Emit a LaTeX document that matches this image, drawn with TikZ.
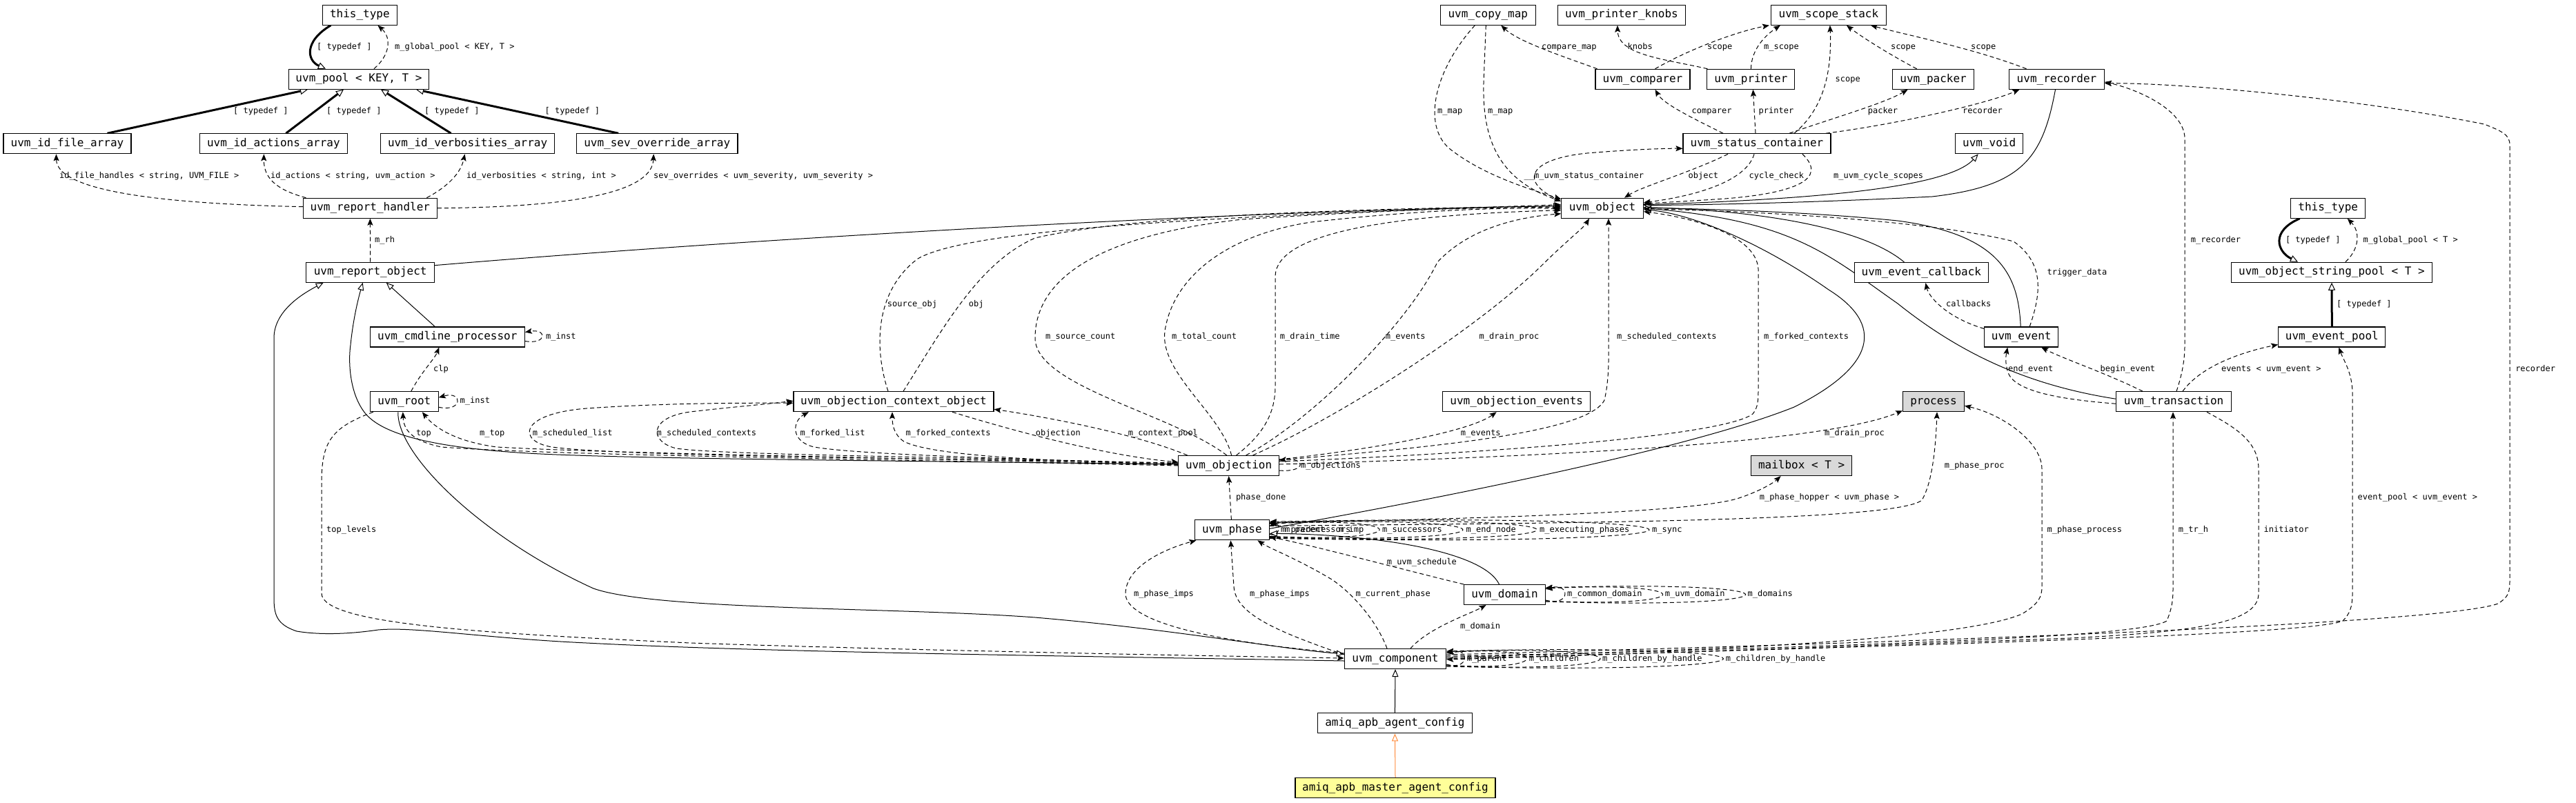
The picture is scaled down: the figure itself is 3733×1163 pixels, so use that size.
\documentclass[tikz,border=0pt]{standalone}
\usepackage{fontspec}
\newfontfamily\dmono{DejaVu Sans Mono}
\usetikzlibrary{arrows.meta,backgrounds}
\definecolor{graybox}{HTML}{D9D9D9}
\definecolor{yellowbox}{HTML}{FFFF99}
\definecolor{orangeedge}{HTML}{FF8C3C}
\begin{document}
\begin{tikzpicture}[x=1pt,y=-1pt,
  box/.style={draw=black, line width=1.1pt, fill=white, inner sep=0pt, minimum height=29pt,
    font=\dmono\fontsize{16}{18}\selectfont, text height=12pt, text depth=3.5pt},
  lbl/.style={font=\dmono\fontsize{12}{14}\selectfont, inner sep=0pt, anchor=west, text height=9pt, text depth=2.5pt},
  use/.style={line width=1pt, dash pattern=on 6pt off 4pt, -{Stealth[length=10pt,width=8pt,inset=2pt]}},
  inh/.style={line width=1pt, -{Triangle[length=11pt,width=9pt,fill=white]}},
  tdef/.style={line width=3pt, -{Triangle[length=11pt,width=10pt,fill=white,line width=1pt]}},
  oinh/.style={line width=1pt, draw=orangeedge, -{Triangle[length=11pt,width=9pt,fill=white,color=orangeedge]}}
]
\begin{scope}[on background layer]
\fill[white] (0,0) rectangle (3733,1163);
\end{scope}
\useasboundingbox (0,0) rectangle (3733,1163);

% ---------------- nodes ----------------
\node[box, minimum width=108pt] (ttL) at (521.4,21.7) {this\_type};
\node[box, minimum width=203.4pt] (pool) at (520,114.7) {uvm\_pool < KEY, T >};
\node[box, minimum width=185pt] (fileA) at (97.5,208.3) {uvm\_id\_file\_array};
\node[box, minimum width=213.7pt] (actA) at (396.4,208.3) {uvm\_id\_actions\_array};
\node[box, minimum width=252pt] (verbA) at (677.6,208.3) {uvm\_id\_verbosities\_array};
\node[box, minimum width=233.5pt] (sevA) at (952.2,208.3) {uvm\_sev\_override\_array};
\node[box, minimum width=194pt] (rh) at (536.4,301.7) {uvm\_report\_handler};
\node[box, minimum width=185.6pt] (ro) at (536.7,394.7) {uvm\_report\_object};
\node[box, minimum width=224pt] (clp) at (648.3,488.5) {uvm\_cmdline\_processor};
\node[box, minimum width=98.8pt] (root) at (585.8,582.2) {uvm\_root};
\node[box, minimum width=290pt] (ctx) at (1295,582.2) {uvm\_objection\_context\_object};
\node[box, minimum width=145.4pt] (objn) at (1780.6,675) {uvm\_objection};
\node[box, minimum width=107.8pt] (phase) at (1785.4,768.3) {uvm\_phase};
\node[box, minimum width=137.8pt] (copy) at (2156.3,21.7) {uvm\_copy\_map};
\node[box, minimum width=184.3pt] (knobs) at (2349.9,21.7) {uvm\_printer\_knobs};
\node[box, minimum width=167pt] (scope) at (2649.9,21.7) {uvm\_scope\_stack};
\node[box, minimum width=137pt] (cmp) at (2380.5,114.8) {uvm\_comparer};
\node[box, minimum width=127pt] (prn) at (2537.4,114.8) {uvm\_printer};
\node[box, minimum width=118.6pt] (pck) at (2801.6,114.8) {uvm\_packer};
\node[box, minimum width=137.6pt] (rec) at (2980.5,114.8) {uvm\_recorder};
\node[box, minimum width=214pt] (stat) at (2546,208.3) {uvm\_status\_container};
\node[box, minimum width=98.3pt] (void) at (2882.7,208.3) {uvm\_void};
\node[box, minimum width=118.6pt] (obj) at (2322,301.7) {uvm\_object};
\node[box, minimum width=194pt] (ecb) at (2784.4,395) {uvm\_event\_callback};
\node[box, minimum width=107.8pt] (ttR) at (3373.7,301.7) {this\_type};
\node[box, minimum width=290.6pt] (osp) at (3379,394.7) {uvm\_object\_string\_pool < T >};
\node[box, minimum width=107pt] (evt) at (2929.2,488.5) {uvm\_event};
\node[box, minimum width=155.2pt] (epool) at (3379.3,488.5) {uvm\_event\_pool};
\node[box, minimum width=214.2pt] (oevt) at (2197.7,582.2) {uvm\_objection\_events};
\node[box, minimum width=88.6pt, fill=graybox] (proc) at (2802,582.2) {process};
\node[box, minimum width=167.4pt] (trans) at (3150,582.2) {uvm\_transaction};
\node[box, minimum width=146pt, fill=graybox] (mbox) at (2610.6,675) {mailbox < T >};
\node[box, minimum width=117.4pt] (dom) at (2180.5,862) {uvm\_domain};
\node[box, minimum width=147.4pt] (comp) at (2022,955) {uvm\_component};
\node[box, minimum width=224pt] (acfg) at (2021.4,1048.3) {amiq\_apb\_agent\_config};
\node[box, minimum width=290pt, fill=yellowbox] (mcfg) at (2022,1142.2) {amiq\_apb\_master\_agent\_config};

% ---------------- edges ----------------
\begin{scope}[on background layer]
% top-left cluster
\draw[tdef] ([xshift=-42pt]ttL.south) .. controls (440,60) and (445,88) .. ([xshift=-48pt]pool.north);
\draw[use] ([xshift=22pt]pool.north) .. controls (565,80) and (568,55) .. ([xshift=26pt]ttL.south);
\draw[tdef] ([xshift=58pt]fileA.north) -- ([xshift=-74pt]pool.south);
\draw[tdef] ([xshift=18pt]actA.north) -- ([xshift=-22pt]pool.south);
\draw[tdef] ([xshift=-24pt]verbA.north) -- ([xshift=32pt]pool.south);
\draw[tdef] ([xshift=-56pt]sevA.north) -- ([xshift=83pt]pool.south);
\draw[use] ([yshift=2pt]rh.west) .. controls (220,295) and (82,275) .. ([xshift=-16pt]fileA.south);
\draw[use] ([xshift=-93pt]rh.north) .. controls (400,275) and (382,258) .. ([xshift=-14pt]actA.south);
\draw[use] ([xshift=82pt]rh.north) .. controls (650,270) and (668,250) .. ([xshift=-4pt]verbA.south);
\draw[use] (rh.east) .. controls (850,300) and (945,275) .. ([xshift=-5pt]sevA.south);
\draw[use] (ro.north) -- (rh.south);
\draw[inh] ([yshift=-5pt]ro.north east) .. controls (1100,345) and (1800,305) .. ([yshift=3pt]obj.west);

% root cluster
\draw[inh] ([xshift=-18pt]clp.north) -- ([xshift=23pt]ro.south);
\draw[use] ([yshift=-6pt]clp.east) .. controls (793,500) and (793,476) .. ([yshift=7pt]clp.east);
\draw[use] ([xshift=10pt]root.north) .. controls (610,540) and (630,520) .. ([xshift=-12pt]clp.south);
\draw[use] ([yshift=-8pt]root.east) .. controls (671,598) and (671,566) .. ([yshift=6pt]root.east);
\draw[inh] ([xshift=-9pt]root.south) .. controls (575,660) and (700,780) .. (860,853)
   .. controls (950,885) and (1300,880) .. (1500,895) .. controls (1700,912) and (1850,940) .. ([yshift=7pt]comp.west);
\draw[use] ([xshift=-45pt]root.south) .. controls (480,620) and (466,640) .. (466,700) -- (466,860)
   .. controls (466,905) and (700,918) .. (1000,932) .. controls (1300,942) and (1700,950) .. ([yshift=1pt]comp.west);
\draw[inh] ([yshift=-3pt]comp.west) .. controls (1500,950) and (1100,945) .. (850,932)
   .. controls (700,925) and (600,908) .. (548,913) .. controls (500,920) and (460,920) .. (430,915)
   .. controls (400,905) and (397,890) .. (397,866) -- (397,490) .. controls (397,450) and (440,425) .. ([xshift=-68pt]ro.south);
\draw[inh] ([yshift=2pt]objn.west) .. controls (1300,668) and (900,665) .. (765,657)
   .. controls (650,650) and (560,635) .. (530,600) .. controls (505,570) and (505,520) .. (508,500)
   .. controls (512,460) and (520,430) .. ([xshift=-11pt]ro.south);
\draw[use] (objn.west) .. controls (1300,666) and (800,660) .. (640,648) .. controls (600,640) and (585,625) .. ([xshift=-2pt]root.south);
\draw[use] ([yshift=1pt]objn.west) .. controls (1300,663) and (900,658) .. (720,648) .. controls (660,640) and (630,620) .. ([xshift=26pt]root.south);
\draw[use] ([yshift=4pt]objn.west) .. controls (1400,665) and (900,662) .. (800,648)
   .. controls (750,640) and (750,600) .. (850,592) .. controls (950,585) and (1050,584) .. ([yshift=-2pt]ctx.west);
\draw[use] ([yshift=3pt]objn.west) .. controls (1400,662) and (1050,660) .. (980,650)
   .. controls (940,640) and (940,605) .. (1000,597) .. controls (1060,590) and (1100,587) .. ([yshift=1pt]ctx.west);
\draw[use] ([yshift=1pt]objn.west) .. controls (1500,665) and (1250,660) .. (1180,648)
   .. controls (1145,640) and (1148,610) .. ([xshift=-123pt]ctx.south);
\draw[use] ([yshift=2pt]objn.west) .. controls (1500,668) and (1350,660) .. (1310,640)
   .. controls (1295,630) and (1293,615) .. ([xshift=-2pt]ctx.south);
\draw[use] ([xshift=-60pt]objn.north) .. controls (1650,630) and (1520,605) .. ([yshift=4pt]ctx.south east);
\draw[use] ([xshift=85pt]ctx.south) .. controls (1470,625) and (1600,660) .. ([yshift=5pt]objn.west);

% context/objection -> uvm_object
\draw[use] ([xshift=-8pt]ctx.north) .. controls (1265,500) and (1270,420) .. (1330,375)
   .. controls (1400,335) and (1700,315) .. ([yshift=5pt]obj.west);
\draw[use] ([xshift=14pt]ctx.north) .. controls (1370,470) and (1420,380) .. (1500,345)
   .. controls (1650,310) and (2000,302) .. ([yshift=3pt]obj.west);
\draw[use] ([xshift=-3pt]objn.north) .. controls (1700,600) and (1500,560) .. (1500,490)
   .. controls (1500,400) and (1600,340) .. (1800,318) .. controls (2000,305) and (2150,300) .. ([yshift=1pt]obj.west);
\draw[use] ([xshift=4pt]objn.north) .. controls (1770,600) and (1680,540) .. (1688,480)
   .. controls (1700,400) and (1780,340) .. (1900,322) .. controls (2050,305) and (2180,300) .. ([yshift=-1pt]obj.west);
\draw[use] ([xshift=11pt]objn.north) .. controls (1830,630) and (1848,600) .. (1848,560) -- (1848,400)
   .. controls (1850,340) and (2000,312) .. ([yshift=-3pt]obj.west);
\draw[use] ([xshift=25pt]objn.north) .. controls (1900,610) and (2040,470) .. (2083,380)
   .. controls (2130,330) and (2200,315) .. ([yshift=-8pt]obj.west);
\draw[use] ([xshift=35pt]objn.north) .. controls (1950,600) and (2150,470) .. (2239,380)
   .. controls (2275,345) and (2295,330) .. ([xshift=-19pt]obj.south);
\draw[use] ([yshift=8pt]objn.east) .. controls (2050,650) and (2300,630) .. (2325,580)
   .. controls (2332,550) and (2331,520) .. (2331,500) -- ([xshift=9pt]obj.south);
\draw[use] ([yshift=6pt]objn.east) .. controls (2200,655) and (2500,630) .. (2540,600)
   .. controls (2548,590) and (2548,580) .. (2548,560) -- (2548,390) .. controls (2545,340) and (2450,315) .. ([yshift=-5pt]obj.east);
\draw[use] ([yshift=9pt]objn.east) .. controls (2000,650) and (2130,625) .. ([xshift=-29pt]oevt.south);
\draw[use] ([yshift=2pt]objn.east) .. controls (2300,660) and (2650,640) .. ([yshift=2pt]proc.south west);
\draw[use] ([yshift=-7pt]objn.east) .. controls (1893,685) and (1893,663) .. ([yshift=8pt]objn.east);
\draw[use] ([xshift=-1pt]phase.north) -- (objn.south);

% phase cluster
\draw[inh] ([yshift=2pt]phase.east) .. controls (2100,720) and (2450,650) .. (2600,590)
   .. controls (2720,530) and (2730,470) .. (2650,420) .. controls (2550,350) and (2450,310) .. ([yshift=-2pt]obj.east);
\draw[inh] ([xshift=-8pt]dom.north) .. controls (2150,800) and (2000,775) .. ([yshift=-5pt]phase.east);
\draw[use] (dom.north west) .. controls (2050,830) and (1900,790) .. ([yshift=-10pt]phase.east);
\draw[use] ([yshift=8pt]comp.west) .. controls (1750,930) and (1630,900) .. (1631,860)
   .. controls (1632,820) and (1690,795) .. ([xshift=-52pt]phase.south);
\draw[use] ([yshift=6pt]comp.west) .. controls (1850,915) and (1790,890) .. (1788,850) -- ([xshift=-2pt]phase.south);
\draw[use] ([xshift=-12pt]comp.north) .. controls (1995,900) and (1960,860) .. (1930,840)
   .. controls (1880,810) and (1840,795) .. ([xshift=37pt]phase.south);
\draw[use] ([xshift=22pt]comp.north) .. controls (2070,910) and (2130,890) .. ([xshift=-27pt]dom.south);
% phase self loops
\draw[use] ([yshift=-6pt]phase.east) .. controls (1856,780) and (1856,756) .. ([yshift=6pt]phase.east);
\draw[use] ([yshift=-9pt]phase.east) .. controls (2051,788) and (2051,748) .. ([yshift=9pt]phase.east);
\draw[use] ([yshift=-10pt]phase.east) .. controls (2212,790) and (2212,746) .. ([yshift=10pt]phase.east);
\draw[use] ([yshift=-11pt]phase.east) .. controls (2355,792) and (2355,744) .. ([yshift=11pt]phase.east);
\draw[use] ([yshift=-12pt]phase.east) .. controls (2572,794) and (2572,742) .. ([yshift=12pt]phase.east);
\draw[use] ([yshift=10pt]phase.east) .. controls (2100,752) and (2450,745) .. (2520,722)
   .. controls (2550,712) and (2570,700) .. ([xshift=-30pt]mbox.south);
\draw[use] ([yshift=6pt]phase.east) .. controls (2300,758) and (2750,755) .. (2785,725)
   .. controls (2800,700) and (2805,650) .. ([xshift=5pt]proc.south);
% domain self loops
\draw[use] ([yshift=-8pt]dom.east) .. controls (2276,880) and (2276,844) .. ([yshift=8pt]dom.east);
\draw[use] ([yshift=-9pt]dom.east) .. controls (2465,882) and (2465,842) .. ([yshift=9pt]dom.east);
\draw[use] ([yshift=-10pt]dom.east) .. controls (2625,884) and (2625,840) .. ([yshift=10pt]dom.east);
% component self loops
\draw[use] ([yshift=-8pt]comp.east) .. controls (2130,973) and (2130,937) .. ([yshift=8pt]comp.east);
\draw[use] ([yshift=-9pt]comp.east) .. controls (2250,975) and (2250,935) .. ([yshift=9pt]comp.east);
\draw[use] ([yshift=-10pt]comp.east) .. controls (2392,977) and (2392,933) .. ([yshift=10pt]comp.east);
\draw[use] ([yshift=-11pt]comp.east) .. controls (2630,979) and (2630,931) .. ([yshift=11pt]comp.east);
% component to the right
\draw[use] ([yshift=4pt]comp.east) .. controls (2500,945) and (2850,925) .. (2930,890)
   .. controls (2955,875) and (2959,865) .. (2959,850) -- (2959,680) .. controls (2959,640) and (2900,600) .. ([yshift=-6pt]proc.east);
\draw[use] ([yshift=2pt]comp.east) .. controls (2700,935) and (3100,925) .. (3140,900)
   .. controls (3148,880) and (3149,870) .. (3149,850) -- ([xshift=-1pt]trans.south);
\draw[use] ([xshift=48pt]trans.south) .. controls (3240,620) and (3273,640) .. (3273,680) -- (3273,860)
   .. controls (3273,900) and (3200,915) .. (3000,925) .. controls (2600,940) and (2300,950) .. ([yshift=-1pt]comp.east);
\draw[use] (comp.east) .. controls (2800,935) and (3350,920) .. (3395,900)
   .. controls (3405,890) and (3409,880) .. (3409,860) -- (3409,570) .. controls (3409,540) and (3395,520) .. ([xshift=10pt]epool.south);
\draw[use] ([yshift=6pt]comp.east) .. controls (3000,925) and (3550,900) .. (3620,875)
   .. controls (3635,865) and (3637,860) .. (3637,840) -- (3637,210) .. controls (3637,195) and (3625,190) .. (3600,180)
   .. controls (3400,140) and (3150,120) .. ([yshift=-6pt]rec.east);
\draw[use] ([xshift=4pt]trans.north) .. controls (3163,540) and (3166,520) .. (3166,500) -- (3166,200)
   .. controls (3165,160) and (3100,130) .. ([yshift=-4pt]rec.east);
\draw[use] ([xshift=13pt]trans.north) .. controls (3190,530) and (3250,510) .. ([yshift=-11pt]epool.west);
\draw[use] ([xshift=-45pt]trans.north) .. controls (3050,540) and (2990,520) .. ([xshift=29pt]evt.south);
\draw[use] ([yshift=-3pt]trans.west) .. controls (3000,580) and (2920,570) .. (2910,540)
   .. controls (2905,525) and (2907,515) .. ([xshift=-20pt]evt.south);
\draw[inh] ([yshift=4pt]trans.west) .. controls (2950,560) and (2850,520) .. (2750,440)
   .. controls (2650,370) and (2600,320) .. (obj.east);
\draw[inh] ([xshift=-1pt]evt.north) .. controls (2925,400) and (2900,340) .. (2750,320)
   .. controls (2600,305) and (2450,303) .. ([yshift=1pt]obj.east);
\draw[inh] ([xshift=-25pt]ecb.north) .. controls (2700,330) and (2550,305) .. ([yshift=1pt]obj.east);
\draw[inh] ([xshift=-2pt]rec.south) .. controls (2960,230) and (2930,270) .. (2800,285)
   .. controls (2600,295) and (2450,297) .. ([yshift=4pt]obj.east);
\draw[inh] ([yshift=5pt]obj.east) .. controls (2600,290) and (2820,275) .. ([xshift=-16pt]void.south);
\draw[use] ([xshift=12pt]evt.north) .. controls (2960,420) and (2960,380) .. (2918,350)
   .. controls (2800,320) and (2550,306) .. ([yshift=-1pt]obj.east);
\draw[use] ([yshift=-3pt]evt.north west) .. controls (2820,460) and (2795,430) .. ([xshift=6pt]ecb.south);

% status container cluster
\draw[use] ([xshift=-70pt]obj.north) .. controls (2200,260) and (2220,230) .. (2300,222)
   .. controls (2360,217) and (2410,215) .. ([yshift=-7pt]stat.west);
\draw[use] ([xshift=-42pt]stat.south) .. controls (2450,250) and (2380,270) .. ([xshift=32pt]obj.north);
\draw[use] ([xshift=-4pt]stat.south) .. controls (2530,265) and (2450,285) .. ([yshift=8pt]obj.east);
\draw[use] ([xshift=66pt]stat.south) .. controls (2650,260) and (2600,280) .. (2500,288)
   .. controls (2440,292) and (2400,294) .. ([yshift=6pt]obj.east);
\draw[use] ([xshift=-49pt]stat.north) .. controls (2450,170) and (2410,150) .. ([xshift=18pt]cmp.south);
\draw[use] ([xshift=-2pt]stat.north) -- ([xshift=3pt]prn.south);
\draw[use] ([xshift=47pt]stat.north) .. controls (2660,170) and (2730,150) .. ([xshift=-37pt]pck.south);
\draw[use] ([xshift=54pt]stat.north) .. controls (2640,160) and (2655,110) .. ([xshift=2pt]scope.south);
\draw[use] ([xshift=100pt]stat.north) .. controls (2750,180) and (2880,150) .. ([xshift=-54pt]rec.south);
\draw[use] ([xshift=-19pt]copy.south) .. controls (2080,100) and (2060,180) .. (2100,215)
   .. controls (2150,255) and (2220,275) .. ([yshift=-2pt]obj.north west);
\draw[use] ([xshift=-3pt]copy.south) -- (2150,120) .. controls (2148,200) and (2170,260) .. ([yshift=-5pt]obj.north west);
\draw[use] ([xshift=-66pt]cmp.north) .. controls (2260,80) and (2200,60) .. ([xshift=19pt]copy.south);
\draw[use] ([xshift=-63pt]prn.north) .. controls (2410,85) and (2345,80) .. ([xshift=-6pt]knobs.south);
\draw[use] ([xshift=18pt]cmp.north) .. controls (2450,70) and (2520,45) .. ([xshift=-86pt]scope.south);
\draw[use] (prn.north) .. controls (2538,70) and (2560,50) .. ([xshift=-70pt]scope.south);
\draw[use] ([xshift=-24pt]pck.north) .. controls (2740,80) and (2700,55) .. ([xshift=26pt]scope.south);
\draw[use] ([xshift=-44pt]rec.north) .. controls (2860,70) and (2760,50) .. ([xshift=61pt]scope.south);

% right cluster
\draw[tdef] ([xshift=-41pt]ttR.south) .. controls (3290,335) and (3300,365) .. ([xshift=-49pt]osp.north);
\draw[use] ([xshift=20pt]osp.north) .. controls (3420,360) and (3420,335) .. ([xshift=28pt]ttR.south);
\draw[tdef] (epool.north) -- (osp.south);

% bottom
\draw[oinh] (mcfg.north) -- (acfg.south);
\draw[inh] (acfg.north) -- (comp.south);
\end{scope}

% ---------------- labels ----------------
\node[lbl] (l1) at (459,68) {[ typedef ]};
\node[lbl] (l2) at (572,68) {m\_global\_pool < KEY, T >};
\node[lbl] (l3) at (338,161.7) {[ typedef ]};
\node[lbl] (l4) at (473,161.7) {[ typedef ]};
\node[lbl] (l5) at (615,161.7) {[ typedef ]};
\node[lbl] (l6) at (789.5,161.7) {[ typedef ]};
\node[lbl] (l7) at (86,255) {id\_file\_handles < string, UVM\_FILE >};
\node[lbl] (l8) at (392,255) {id\_actions < string, uvm\_action >};
\node[lbl] (l9) at (676,255) {id\_verbosities < string, int >};
\node[lbl] (l10) at (947,255) {sev\_overrides < uvm\_severity, uvm\_severity >};
\node[lbl] (l11) at (543,348) {m\_rh};
\node[lbl] (l12) at (791,488) {m\_inst};
\node[lbl] (l13) at (628,535) {clp};
\node[lbl] (l14) at (666.5,581) {m\_inst};
\node[lbl] (l15) at (603,628) {top};
\node[lbl] (l16) at (695,628) {m\_top};
\node[lbl] (l17) at (771.7,628) {m\_scheduled\_list};
\node[lbl] (l18) at (951.5,628) {m\_scheduled\_contexts};
\node[lbl] (l19) at (473,768) {top\_levels};
\node[lbl] (l20) at (1285.7,441.7) {source\_obj};
\node[lbl] (l21) at (1403.7,441.7) {obj};
\node[lbl] (l22) at (1515,488.3) {m\_source\_count};
\node[lbl] (l23) at (1698,488.3) {m\_total\_count};
\node[lbl] (l24) at (1854.6,488.3) {m\_drain\_time};
\node[lbl] (l25) at (2007.7,488.3) {m\_events};
\node[lbl] (l26) at (2143.5,488.3) {m\_drain\_proc};
\node[lbl] (l27) at (2343,488.3) {m\_scheduled\_contexts};
\node[lbl] (l28) at (2556,488.3) {m\_forked\_contexts};
\node[lbl] (l29) at (1159.4,628.3) {m\_forked\_list};
\node[lbl] (l30) at (1312.5,628.3) {m\_forked\_contexts};
\node[lbl] (l31) at (1500.6,628.3) {objection};
\node[lbl] (l32) at (1634.6,628.3) {m\_context\_pool};
\node[lbl] (l33) at (2116.7,628.3) {m\_events};
\node[lbl] (l34) at (2644,628.3) {m\_drain\_proc};
\node[lbl] (l35) at (1885,675.7) {m\_objections};
\node[lbl] (l36) at (1790.8,721.7) {phase\_done};
\node[lbl] (l37) at (2817.6,675.7) {m\_phase\_proc};
\node[lbl] (l38) at (2549.7,721.7) {m\_phase\_hopper < uvm\_phase >};
\node[lbl] (l39a) at (1856,768.3) {m\_predecessors};
\node[lbl] (l39b) at (1862,768.3) {m\_parent};
\node[lbl] (l39c) at (1940,768.3) {m\_imp};
\node[lbl] (l40) at (2003,768.3) {m\_successors};
\node[lbl] (l41) at (2124.4,768.3) {m\_end\_node};
\node[lbl] (l42) at (2231,768.3) {m\_executing\_phases};
\node[lbl] (l43) at (2394,768.3) {m\_sync};
\node[lbl] (l44) at (2009.6,815) {m\_uvm\_schedule};
\node[lbl] (l45) at (1642.9,861.7) {m\_phase\_imps};
\node[lbl] (l46) at (1811,861.7) {m\_phase\_imps};
\node[lbl] (l47) at (1964.3,861.7) {m\_current\_phase};
\node[lbl] (l48) at (2271,861.7) {m\_common\_domain};
\node[lbl] (l49) at (2412.6,861.7) {m\_uvm\_domain};
\node[lbl] (l50) at (2532.5,861.7) {m\_domains};
\node[lbl] (l51) at (2116,908.3) {m\_domain};
\node[lbl] (l52) at (2125.6,955.7) {m\_parent};
\node[lbl] (l53) at (2215.6,955.7) {m\_children};
\node[lbl] (l54) at (2322,955.7) {m\_children\_by\_handle};
\node[lbl] (l55) at (2500.6,955.7) {m\_children\_by\_handle};
\node[lbl] (l56) at (2234,68.7) {compare\_map};
\node[lbl] (l57) at (2358.4,68.7) {knobs};
\node[lbl] (l58) at (2473.9,68.7) {scope};
\node[lbl] (l59) at (2556,68.7) {m\_scope};
\node[lbl] (l60) at (2739.8,68.7) {scope};
\node[lbl] (l61) at (2856,68.7) {scope};
\node[lbl] (l62) at (2659.4,115.7) {scope};
\node[lbl] (l63) at (2083,161.7) {m\_map};
\node[lbl] (l64) at (2156,161.7) {m\_map};
\node[lbl] (l65) at (2451.5,161.7) {comparer};
\node[lbl] (l66) at (2548.5,161.7) {printer};
\node[lbl] (l67) at (2706.6,161.7) {packer};
\node[lbl] (l68) at (2843.8,161.7) {recorder};
\node[lbl] (l69) at (2208.5,255.3) {\_\_m\_uvm\_status\_container};
\node[lbl] (l70) at (2446.4,255.3) {object};
\node[lbl] (l71) at (2534.4,255.3) {cycle\_check};
\node[lbl] (l72) at (2656.9,255.3) {m\_uvm\_cycle\_scopes};
\node[lbl] (l73) at (2820,441.3) {callbacks};
\node[lbl] (l74) at (2966.4,395) {trigger\_data};
\node[lbl] (l75) at (2910,535.3) {end\_event};
\node[lbl] (l76) at (3043.5,535.3) {begin\_event};
\node[lbl] (l77) at (3218.8,535.3) {events < uvm\_event >};
\node[lbl] (l78) at (3645,535.3) {recorder};
\node[lbl] (l79) at (3174.7,348.3) {m\_recorder};
\node[lbl] (l80) at (3311.8,348.3) {[ typedef ]};
\node[lbl] (l81) at (3424.4,348.3) {m\_global\_pool < T >};
\node[lbl] (l82) at (3386,441.3) {[ typedef ]};
\node[lbl] (l83) at (3416.5,721.7) {event\_pool < uvm\_event >};
\node[lbl] (l84) at (2966.4,768.3) {m\_phase\_process};
\node[lbl] (l85) at (3156.6,768.3) {m\_tr\_h};
\node[lbl] (l86) at (3280.5,768.3) {initiator};
\end{tikzpicture}
\end{document}
